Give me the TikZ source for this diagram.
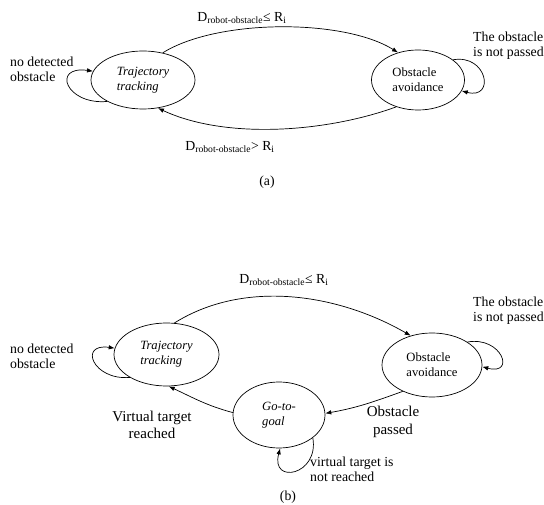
\documentclass[tikz,border=0pt]{standalone}
\usepackage{fontspec}
\setmainfont{Liberation Serif}
\usetikzlibrary{shapes.geometric,arrows.meta}

\begin{document}
\begin{tikzpicture}[x=1pt,y=1pt,
    state/.style={draw,ellipse,line width=0.7pt,inner sep=0pt,align=left,font=\fontsize{12.6}{15}\selectfont},
    istate/.style={state,font=\fontsize{12.6}{15}\selectfont\itshape},
    lbl/.style={inner sep=0pt,align=left,font=\fontsize{13.8}{15}\selectfont},
    biglbl/.style={inner sep=0pt,align=center,font=\fontsize{15}{17.5}\selectfont},
    trans/.style={-{Latex[length=6pt,width=4.5pt]},line width=0.7pt}]
\useasboundingbox (0,0) rectangle (544,504);

% (a)
\node[istate,minimum width=104pt,minimum height=58pt] (tta) at (143,424) {Trajectory\\tracking};
\node[state,minimum width=93pt,minimum height=60pt] (oaa) at (418,424) {Obstacle\\avoidance};
\draw[trans] (tta.54) to[out=32,in=148,looseness=0.7] (oaa.126);
\draw[trans] (oaa.231) to[out=200,in=-25,looseness=0.8] (tta.298);
\draw[trans] (tta.211) .. controls +(185:42) and +(172:42) .. (tta.170);
\draw[trans] (oaa.30) .. controls +(10:35) and +(-15:35) .. (oaa.-14);
\node[lbl,anchor=center] (upa) at (242,486) {D\textsubscript{robot-obstacle}≤ R\textsubscript{i}};
\node[lbl,anchor=center] (downa) at (230,357) {D\textsubscript{robot-obstacle}> R\textsubscript{i}};
\node[lbl,anchor=west] (nodeta) at (10,435) {no detected\\obstacle};
\node[lbl,anchor=west] (notpa) at (473,458.5) {The obstacle\\is not passed};
\node[lbl] (capa) at (267,322) {(a)};

% (b)
\node[istate,minimum width=105pt,minimum height=63pt] (ttb) at (166.5,149.5) {Trajectory\\tracking};
\node[state,minimum width=100pt,minimum height=64pt] (oab) at (432,139) {Obstacle\\avoidance};
\node[istate,minimum width=92pt,minimum height=66pt] (gg) at (279,89) {Go-to-\\goal};
\draw[trans] (ttb.76) to[out=32,in=150,looseness=0.9] (oab.126);
\draw[trans] (ttb.212) .. controls +(185:37) and +(172:37) .. (ttb.173);
\draw[trans] (oab.33) .. controls +(10:35) and +(-15:35) .. (oab.-2);
\draw[trans] (oab.222) to[out=200,in=10] (gg.2);
\draw[trans] (gg.177) to[out=165,in=-25] (ttb.274);
\draw[trans] (gg.326) .. controls +(-80:38) and +(-105:38) .. (gg.272);
\node[lbl,anchor=center] (upb) at (284,224) {D\textsubscript{robot-obstacle}≤ R\textsubscript{i}};
\node[lbl,anchor=west] (nodetb) at (10,147.5) {no detected\\obstacle};
\node[lbl,anchor=west] (notpb) at (473,193.5) {The obstacle\\is not passed};
\node[biglbl] (passed) at (393,82) {Obstacle\\passed};
\node[biglbl] (reached) at (152,79) {Virtual target\\reached};
\node[lbl,anchor=west] (notreached) at (310,35) {virtual target is\\not reached};
\node[lbl] (capb) at (288,7) {(b)};
\end{tikzpicture}
\end{document}
